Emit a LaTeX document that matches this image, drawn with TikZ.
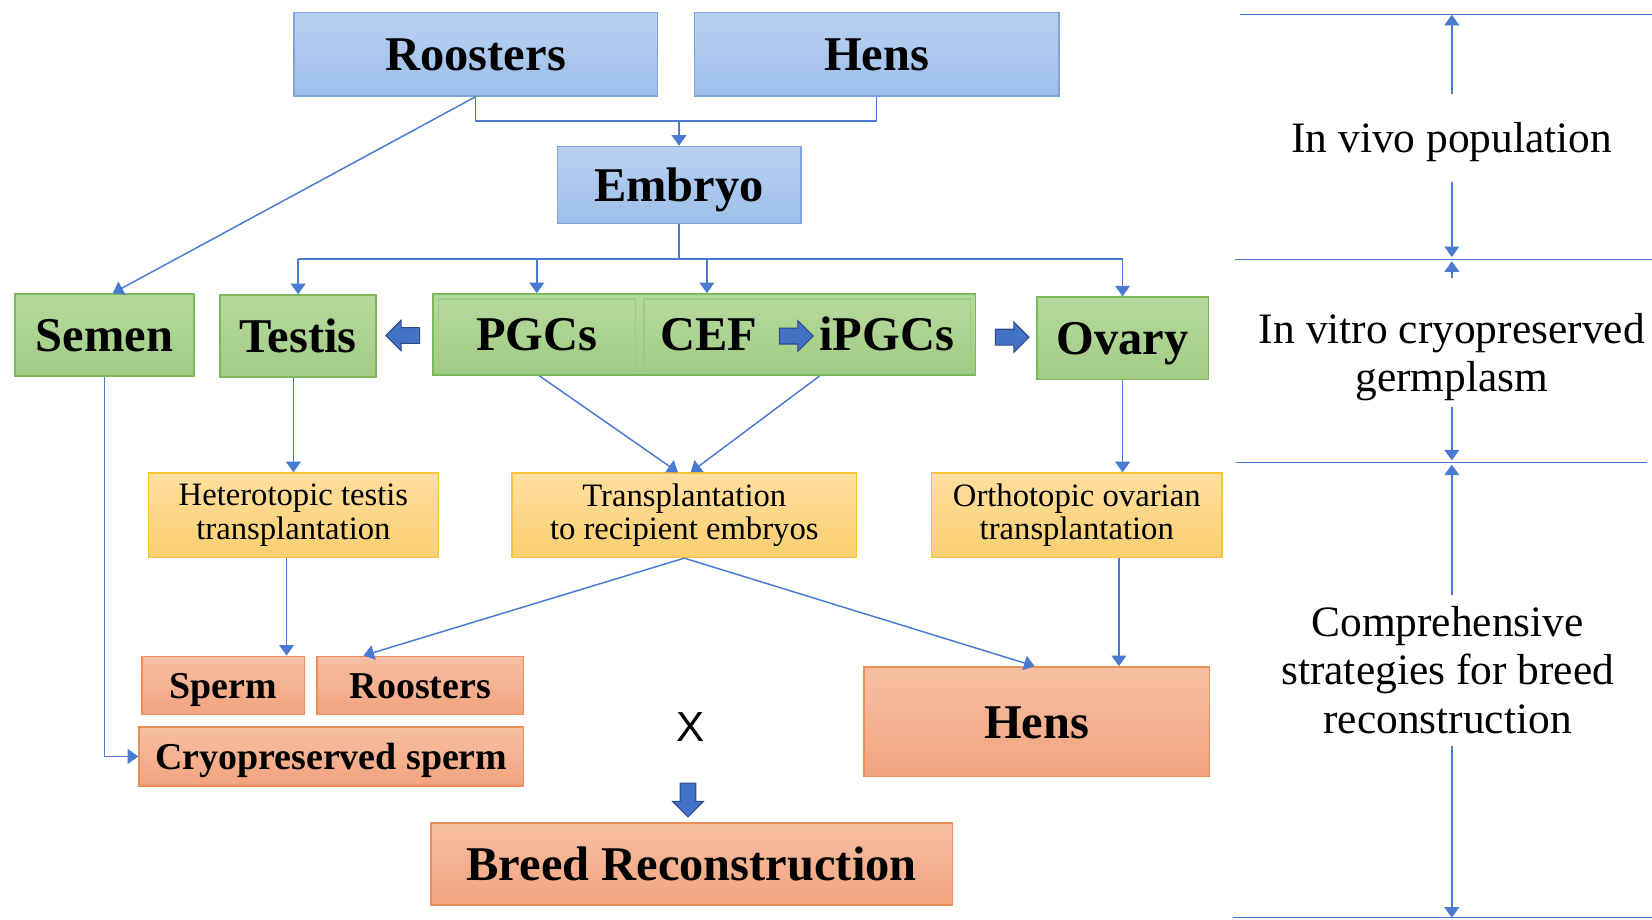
\documentclass[tikz,border=0pt]{standalone}
\usepackage{fontspec}
\setmainfont{Liberation Serif}
\newfontfamily\xfont{Liberation Sans}
\usetikzlibrary{arrows.meta, calc, shapes.arrows}
\definecolor{btop}{HTML}{B9D1F0}
\definecolor{bbot}{HTML}{9DBFEA}
\definecolor{bbord}{HTML}{7EA6DC}
\definecolor{gtop}{HTML}{B5D99C}
\definecolor{gbot}{HTML}{A2CC85}
\definecolor{gbord}{HTML}{7DB85A}
\definecolor{ytop}{HTML}{FEDF9F}
\definecolor{ybot}{HTML}{FBCF70}
\definecolor{ybord}{HTML}{F8C53A}
\definecolor{otop}{HTML}{F6BFA3}
\definecolor{obot}{HTML}{F2A37E}
\definecolor{obord}{HTML}{EF8D5A}
\definecolor{cline}{HTML}{4A7BD0}
\definecolor{afill}{HTML}{4472C4}
\definecolor{adark}{HTML}{2C4A8A}

\begin{document}
\begin{tikzpicture}[x=0.5pt, y=-0.5pt,
  box/.style={draw, line width=0.75pt, inner sep=0pt, align=center},
  big/.style={font=\fontsize{23}{27}\selectfont\bfseries, text height=20.5pt, text depth=5pt},
  mid/.style={font=\fontsize{18}{22}\selectfont\bfseries, text height=16pt, text depth=4pt},
  bluebox/.style={box, big, draw=bbord, top color=btop, bottom color=bbot},
  greenbox/.style={box, big, draw=gbord, top color=gtop, bottom color=gbot},
  yellowbox/.style={box, draw=ybord, top color=ytop, bottom color=ybot, font=\fontsize{15.5}{16}\selectfont},
  orangebox/.style={box, draw=obord, top color=otop, bottom color=obot},
  blockarr/.style={single arrow, draw=adark, fill=afill, line width=0.5pt, inner xsep=0pt, inner ysep=3.5pt,
    minimum height=16pt, single arrow head extend=3.5pt, single arrow head indent=0pt},
  line/.style={draw=cline, line width=0.7pt},
  arr/.style={line, -{Triangle[width=7pt,length=5pt]}},
  side/.style={font=\fontsize{20.6}{23}\selectfont, align=center, inner sep=0pt}]
\useasboundingbox (0,0) rectangle (1568,873);

\node[bluebox, minimum width=172.5pt, minimum height=39.5pt] (roost) at (451.5,51.5) {Roosters};
\node[bluebox, minimum width=173pt, minimum height=39.5pt] (hens) at (832,51.5) {Hens};
\node[bluebox, minimum width=115.5pt, minimum height=36.5pt] (embryo) at (644.5,175.5) {Embryo};

\node[greenbox, minimum width=85pt, minimum height=39pt] (semen) at (99,318) {Semen};
\node[greenbox, minimum width=74pt, minimum height=39pt] (testis) at (283,319) {Testis};
\node[greenbox, minimum width=257.5pt, minimum height=38.5pt] (pgcbox) at (668.5,317.5) {};
\node[greenbox, draw=gbord!75, minimum width=93.5pt, minimum height=33.5pt] (pgcs) at (509.5,317.5) {PGCs};
\node[greenbox, draw=gbord!75, minimum width=155pt, minimum height=33.5pt] (cef) at (766,317.5) {CEF\hspace{29.5pt}iPGCs};
\node[greenbox, minimum width=81.5pt, minimum height=39pt] (ovary) at (1065.5,321) {Ovary};

\node[blockarr, rotate=180] (larr) at (386,318.5) {};
\node[blockarr] (carr) at (752,319) {};
\node[blockarr] (rarr) at (957,320) {};

\node[yellowbox, minimum width=137.5pt, minimum height=40pt] (hetero) at (278.5,489) {Heterotopic testis\\transplantation};
\node[yellowbox, minimum width=163.5pt, minimum height=40pt] (transp) at (649.5,489) {Transplantation\\to recipient embryos};
\node[yellowbox, minimum width=138pt, minimum height=40pt] (ortho) at (1022,489) {Orthotopic ovarian\\transplantation};

\node[orangebox, mid, minimum width=77pt, minimum height=27.5pt] (sperm) at (212,650.5) {Sperm};
\node[orangebox, mid, minimum width=98pt, minimum height=27.5pt] (roost2) at (399,650.5) {Roosters};
\node[orangebox, mid, minimum width=182.5pt, minimum height=28pt] (cryo) at (314.5,718) {Cryopreserved sperm};
\node[orangebox, big, minimum width=164pt, minimum height=52pt] (hens2) at (984,685) {Hens};
\node[font=\xfont\fontsize{20}{24}\selectfont] (cross) at (655,690) {X};
\node[blockarr, rotate=270] (darr) at (653,755.5) {};
\node[orangebox, big, minimum width=247.5pt, minimum height=39pt] (breed) at (656.5,820) {Breed Reconstruction};

\draw[line] (roost.south) -- ++(0,23) coordinate (j) -| (hens.south);
\draw[arr] (embryo.north |- j) -- (embryo.north);
\draw[arr] (roost.south) -- ($(semen.north)+(8,0)$);
\draw[line] (embryo.south) -- ++(0,33) coordinate (bus);
\draw[line] (testis.north |- bus) -- (ovary.north |- bus);
\foreach \n in {testis, ovary} \draw[arr] (\n.north |- bus) -- (\n.north);
\draw[arr] (pgcs.north |- bus) -- (pgcs.north |- pgcbox.north);
\draw[arr] ($(cef.north |- bus)+(-95,0)$) -- ($(cef.north |- pgcbox.north)+(-95,0)$);
\draw[arr] ($(pgcbox.south)+(-156.5,0)$) -- ($(transp.north)+(-6,0)$);
\draw[arr] ($(pgcbox.south)+(109.5,0)$) -- ($(transp.north)+(6,0)$);
\draw[arr] (hetero.north |- testis.south) -- (hetero.north);
\draw[arr] (ovary.south) -- (ovary.south |- ortho.north);
\draw[arr] ($(hetero.south)+(-6.5,0)$) -- ($(sperm.north)+(60,0)$);
\draw[arr] (transp.south) -- ($(roost2.north)+(-54,0)$);
\draw[arr] (transp.south) -- ($(hens2.north)+(-2,0)$);
\draw[arr] ($(ortho.south)+(40,0)$) -- ($(hens2.north)+(78,0)$);
\draw[arr] (semen.south) |- (cryo.west);

\coordinate (l1) at (1177,14);
\coordinate (l2) at (1172,246);
\coordinate (l3) at (1173,439);
\coordinate (l4) at (1170,871);
\foreach \l/\w in {l1/391, l2/396, l3/390, l4/398} \draw[line, line width=0.6pt] (\l) -- ++(\w,0);
\node[side] (vivo) at (1378,134.5) {In vivo population};
\node[side] (vitro) at (1378,339) {In vitro cryopreserved\\germplasm};
\node[side] (compr) at (1374,636) {Comprehensive\\strategies for breed\\reconstruction};
\draw[arr] ($(vivo.north)+(0,-26)$) -- (vivo.north |- l1);
\draw[arr, shorten >=1pt] ($(vivo.south)+(0,19)$) -- (vivo.south |- l2);
\draw[arr, shorten >=1pt] ($(vitro.north)+(0,-33)$) -- (vitro.north |- l2);
\draw[arr, shorten >=1pt] ($(vitro.south)+(0,5)$) -- (vitro.south |- l3);
\draw[arr, shorten >=1pt] ($(compr.north)+(4,-10)$) -- ($(compr.north |- l3)+(4,0)$);
\draw[arr] ($(compr.south)+(4,11)$) -- ($(compr.south |- l4)+(4,0)$);
\end{tikzpicture}
\end{document}
